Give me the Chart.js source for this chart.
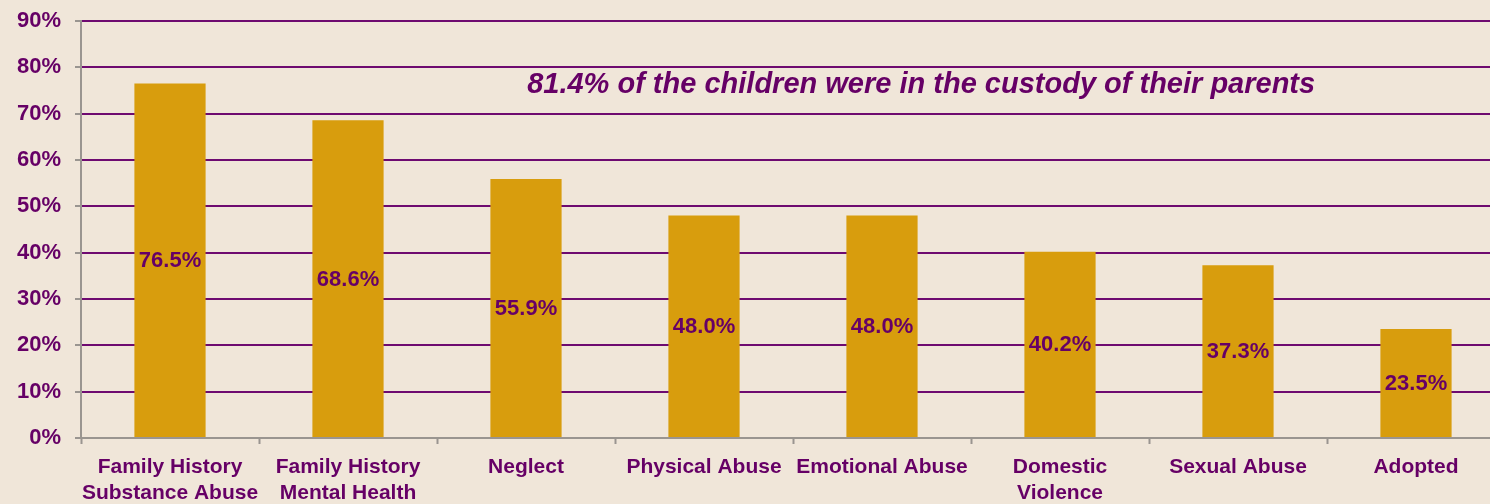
<!DOCTYPE html>
<html>
<head>
<meta charset="utf-8">
<script src="https://cdn.jsdelivr.net/npm/chart.js@4/dist/chart.umd.min.js"></script>
<style>
  html, body { margin: 0; padding: 0; background: #F0E6D9; overflow: hidden; }
  #wrap { width: 1505px; height: 504px; position: relative; }
</style>
</head>
<body>
<div id="wrap"><canvas id="chart"></canvas></div>
<script>
const categories = [
    ['Family History', 'Substance Abuse'],
    ['Family History', 'Mental Health'],
    'Neglect',
    'Physical Abuse',
    'Emotional Abuse',
    ['Domestic', 'Violence'],
    'Sexual Abuse',
    'Adopted'
];
const percents = [76.5, 68.6, 55.9, 48.0, 48.0, 40.2, 37.3, 23.5];
const note = '81.4% of the children were in the custody of their parents';

const purple = '#660066';
const gridPurple = '#6E0A70';
const gold = '#D89D0D';
const grey = '#9A9590';

// value labels in the middle of each bar, plus the note text
const barText = {
    id: 'barText',
    afterDatasetsDraw(chart) {
        let ctx = chart.ctx;
        let meta = chart.getDatasetMeta(0);
        ctx.save();
        ctx.fillStyle = purple;
        ctx.font = 'bold 22px "Liberation Sans", Arial, sans-serif';
        ctx.textAlign = 'center';
        ctx.textBaseline = 'middle';
        meta.data.forEach((bar, i) => {
            let mid = (bar.y + bar.base) / 2 + 1;
            ctx.fillText(percents[i].toFixed(1) + '%', bar.x, mid);
        });
        let area = chart.chartArea;
        let y = chart.scales.y.getPixelForValue(76.2);
        ctx.font = 'italic bold 29px "Liberation Sans", Arial, sans-serif';
        ctx.fillText(note, area.left + (area.right - area.left) * 0.59, y);
        ctx.restore();
    }
};

new Chart('chart', {
    type: 'bar',
    data: {
        labels: categories,
        datasets: [{
            data: percents,
            backgroundColor: gold,
            barPercentage: 0.4,
            categoryPercentage: 1.0
        }]
    },
    options: {
        responsive: true,
        maintainAspectRatio: false,
        animation: false,
        layout: { padding: { top: 21, left: 0, right: 0, bottom: 0 } },
        plugins: { legend: { display: false }, tooltip: { enabled: false } },
        scales: {
            x: {
                offset: true,
                grid: {
                    offset: true,
                    drawOnChartArea: false,
                    tickLength: 6,
                    tickColor: grey,
                    tickWidth: 2
                },
                border: { color: grey, width: 2 },
                ticks: {
                    color: purple,
                    padding: 10,
                    maxRotation: 0,
                    autoSkip: false,
                    font: { family: '"Liberation Sans", Arial, sans-serif', size: 21, weight: 'bold', lineHeight: 1.24 }
                },
                afterFit(scale) { scale.height = 66; }
            },
            y: {
                min: 0,
                max: 90,
                grid: {
                    color: ctx => ctx.tick.value === 0 ? 'rgba(0,0,0,0)' : gridPurple,
                    lineWidth: 2,
                    tickLength: 6,
                    tickColor: grey,
                    tickWidth: 2
                },
                border: { color: grey, width: 2 },
                ticks: {
                    stepSize: 10,
                    color: purple,
                    padding: 14,
                    callback: v => v + '%',
                    font: { family: '"Liberation Sans", Arial, sans-serif', size: 22, weight: 'bold' }
                },
                afterFit(scale) {
                    scale.width = 81;
                    scale.paddingTop = 0;
                    scale.paddingBottom = 0;
                }
            }
        }
    },
    plugins: [barText]
});
</script>
</body>
</html>
